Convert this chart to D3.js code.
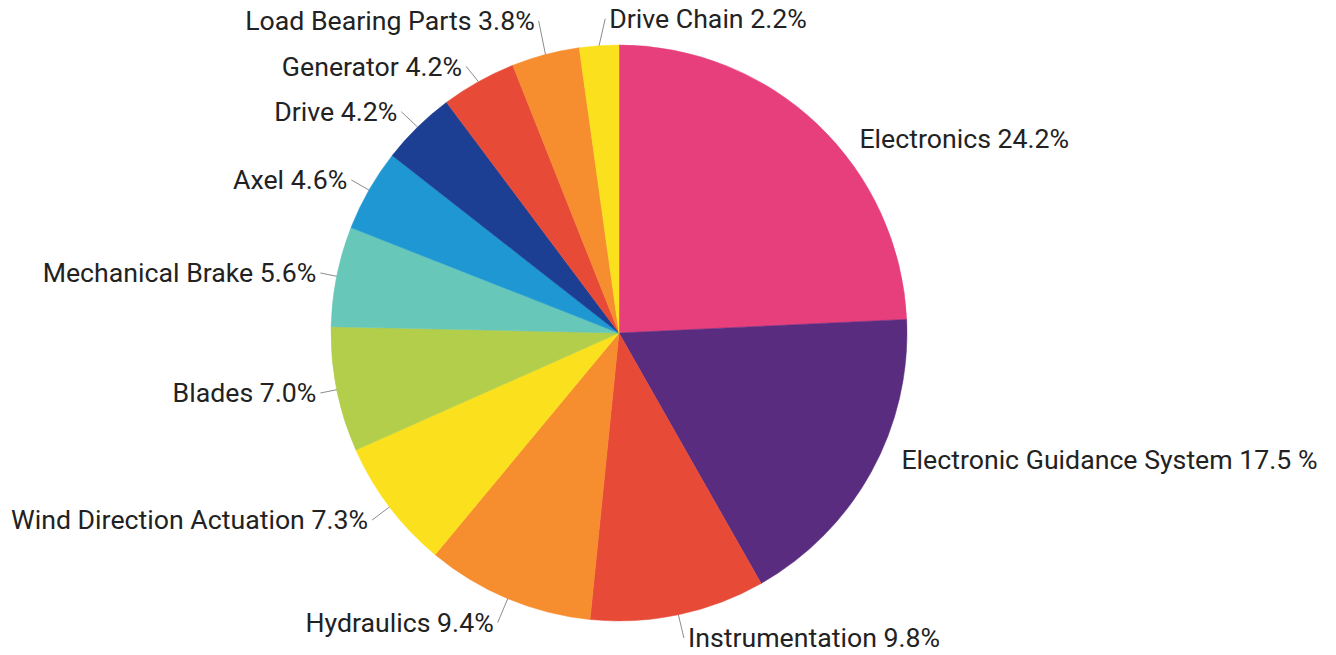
<!DOCTYPE html>
<html>
<head>
<meta charset="utf-8">
<script src="https://cdn.jsdelivr.net/npm/d3@7"></script>
<style>
  html, body { margin: 0; padding: 0; background: #fff; }
  svg { display: block; }
  text { font-family: Roboto, "Noto Sans", sans-serif; }
</style>
</head>
<body>
<svg id="chart" width="1336" height="655"></svg>
<script>
// Failure share by wind turbine component (%)
const categories = [
  "Electronics", "Electronic Guidance System", "Instrumentation", "Hydraulics",
  "Wind Direction Actuation", "Blades", "Mechanical Brake", "Axel",
  "Drive", "Generator", "Load Bearing Parts", "Drive Chain"
];
const values = [24.2, 17.5, 9.8, 9.4, 7.3, 7.0, 5.6, 4.6, 4.2, 4.2, 3.8, 2.2];
const valueLabels = [
  "24.2%", "17.5 %", "9.8%", "9.4%", "7.3%", "7.0%",
  "5.6%", "4.6%", "4.2%", "4.2%", "3.8%", "2.2%"
];
const colors = [
  "#E73F7B", "#5A2C80", "#E74B38", "#F68D2F", "#FBE01E", "#B3CE4B",
  "#67C7B8", "#1E97D3", "#1C3E93", "#E74B38", "#F68D2F", "#FBE01E"
];

const width = 1336, height = 655;
const svg = d3.select("#chart");
const cx = 619, cy = 333, radius = 288;
const fontSize = 26.7;

const data = categories.map((c, i) => ({ name: c, value: values[i], label: valueLabels[i], color: colors[i] }));

const pie = d3.pie().sort(null).value(d => d.value);
const arcs = pie(data);
const arc = d3.arc().innerRadius(0).outerRadius(radius);

const g = svg.append("g").attr("transform", `translate(${cx},${cy})`);

g.selectAll("path.slice")
  .data(arcs)
  .join("path")
  .attr("class", "slice")
  .attr("d", arc)
  .attr("fill", d => d.data.color)
  .attr("stroke", d => d.data.color)
  .attr("stroke-width", 0.5);

// unit direction at angle a (clockwise from 12 o'clock)
const dir = a => [Math.sin(a), -Math.cos(a)];

const labels = arcs.map(d => {
  const mid = (d.startAngle + d.endAngle) / 2;
  const [ux, uy] = dir(mid);
  const big = d.data.value >= 15;
  // labels right next to the top flip to the right-hand side
  const flipped = ux < 0 && mid > 2 * Math.PI - 0.1;
  const right = ux >= 0 || flipped;
  const ex = radius * ux, ey = radius * uy;
  let lx, ly;
  if (big) {
    // big slices: no connector, label leans toward the horizontal
    const a = mid + (Math.PI / 2 - mid) * 0.15;
    const [vx, vy] = dir(a);
    lx = (radius + 18) * vx; ly = (radius + 18) * vy;
  } else {
    // connectors grow longer toward the top and bottom of the pie
    const len = 14 + 13 * Math.abs(uy);
    lx = ex + len * ux + (flipped ? 8 : 0);
    ly = ey + len * uy;
  }
  return { d, right, big, flipped, ex, ey, lx, ly };
});

// spread the left-hand labels so neighbours keep clear of each other
const minGap = fontSize * 1.7;
const left = labels.filter(l => !l.right).sort((a, b) => a.ly - b.ly);
for (let it = 0; it < 60; it++) {
  for (let i = 1; i < left.length; i++) {
    const gap = left[i].ly - left[i - 1].ly;
    if (gap < minGap) {
      const push = (minGap - gap) / 2;
      left[i - 1].ly -= push;
      left[i].ly += push;
    }
  }
}

// keep every label inside the drawing area
const yMin = 17 - cy, yMax = height - 17 - cy;
labels.forEach(l => {
  l.ly = Math.max(yMin, Math.min(yMax, l.ly));
  l.tx = l.lx + (l.right ? 4 : -4);
});

// thin connectors for the smaller slices
g.selectAll("line.leader")
  .data(labels.filter(l => !l.big))
  .join("line")
  .attr("class", "leader")
  .attr("x1", l => l.ex).attr("y1", l => l.ey)
  .attr("x2", l => l.lx).attr("y2", l => l.ly)
  .attr("stroke", "#6f6f6f")
  .attr("stroke-width", 0.8);

g.selectAll("text.label")
  .data(labels)
  .join("text")
  .attr("class", "label")
  .attr("x", l => l.tx)
  .attr("y", l => l.ly)
  .attr("dy", "0.35em")
  .attr("text-anchor", l => l.right ? "start" : "end")
  .attr("font-size", fontSize)
  .attr("fill", "#222")
  .text(l => `${l.d.data.name} ${l.d.data.label}`);
</script>
</body>
</html>
